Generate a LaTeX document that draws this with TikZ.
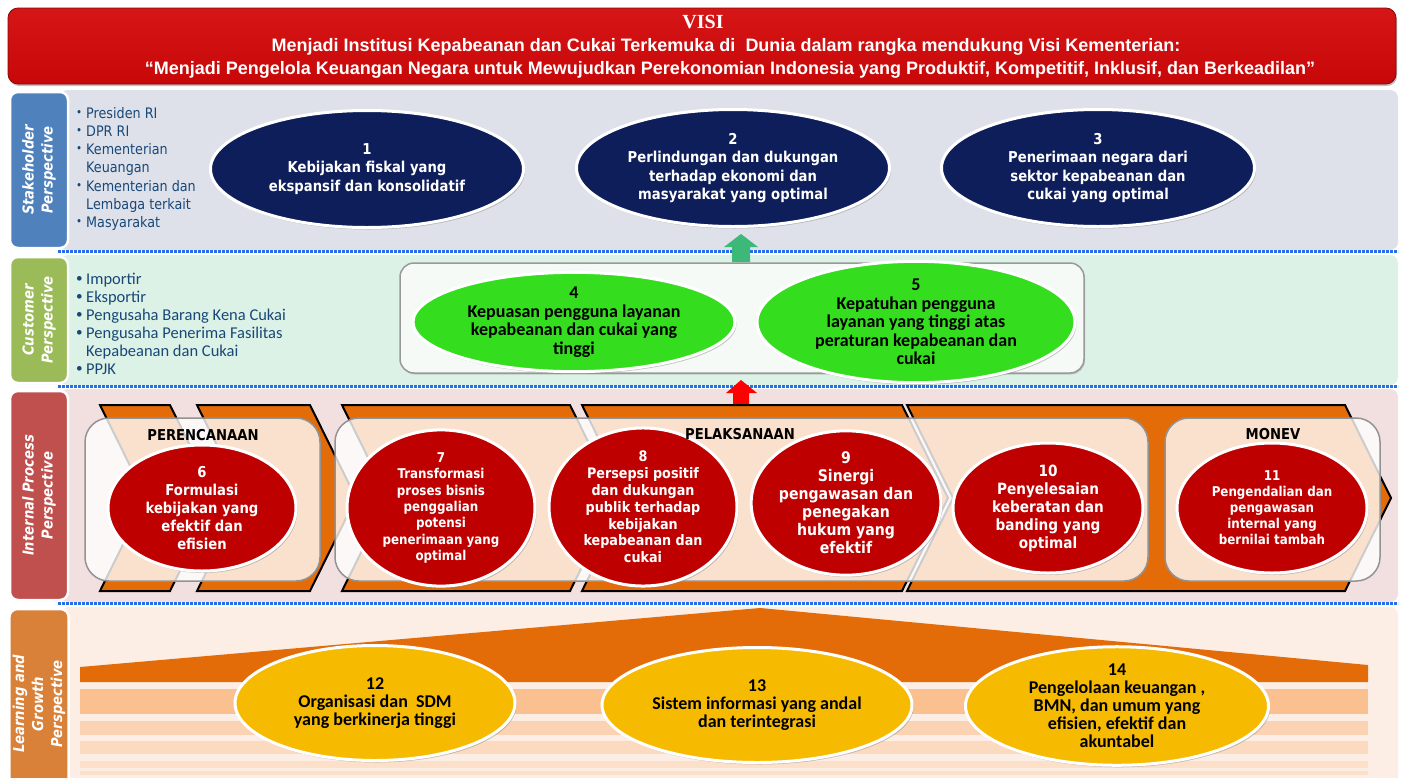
\documentclass[tikz,border=0pt]{standalone}
\usepackage{fontspec}
\setmainfont{DejaVu Sans}[FakeStretch=0.88]
\newfontfamily\headfont{Liberation Sans}
\newfontfamily\visifont{Liberation Serif}
\newfontfamily\califont{Carlito}
\usepackage{tikz}
\usetikzlibrary{shapes.geometric,shadows,positioning}

\definecolor{visired}{RGB}{200,8,8}
\definecolor{visitop}{RGB}{214,22,22}
\definecolor{navy}{RGB}{14,30,90}
\definecolor{brightgreen}{RGB}{52,222,30}
\definecolor{gold}{RGB}{246,187,0}
\definecolor{procred}{RGB}{190,0,0}
\definecolor{chevorange}{RGB}{227,108,9}
\definecolor{listblue}{RGB}{24,72,120}
\definecolor{stakebg}{RGB}{222,225,234}
\definecolor{custbg}{RGB}{221,242,230}
\definecolor{custin}{RGB}{245,250,247}
\definecolor{procbg}{RGB}{242,223,223}
\definecolor{learnbg}{RGB}{252,238,228}
\definecolor{stakelab}{RGB}{79,129,189}
\definecolor{custlab}{RGB}{155,187,89}
\definecolor{proclab}{RGB}{192,80,77}
\definecolor{learnlab}{RGB}{217,128,57}
\definecolor{dotblue}{RGB}{40,110,230}
\definecolor{arrowgreen}{RGB}{60,184,120}
\definecolor{stripeA}{RGB}{250,192,144}
\definecolor{stripeB}{RGB}{251,210,178}
\definecolor{stripeC}{RGB}{252,218,192}
\definecolor{stripeD}{RGB}{252,224,202}

\newcommand{\fsz}[2]{\fontsize{#1}{#2}\selectfont}
\newcommand{\bul}{\makebox[10pt][l]{\raisebox{2pt}{\scalebox{0.8}{\textbullet}}}}
\newcommand{\nobul}{\hspace*{10pt}}

\tikzset{
    goal/.style={
        ellipse,
        draw=white, line width=3pt,
        align=center,
        inner sep=0pt,
        drop shadow={opacity=0.45, shadow xshift=1.5pt, shadow yshift=-2pt}
    },
    stakegoal/.style={
        goal, fill=navy, text=white,
        minimum width=313pt, minimum height=117pt,
        font=\bfseries\fsz{15}{18.5}
    },
    custgoal/.style={
        goal, fill=brightgreen, text=black,
        minimum width=322pt, minimum height=84pt,
        font=\califont\bfseries\fsz{18}{18.5}
    },
    procgoal/.style={
        goal, fill=procred, text=white,
        minimum width=188pt, minimum height=126pt,
        font=\bfseries\fsz{15}{18}
    },
    learngoal/.style={
        goal, fill=gold, text=black,
        minimum height=115pt,
        font=\califont\bfseries\fsz{18}{18}
    },
    perslabel/.style={
        rectangle, rounded corners=8pt,
        draw=white, line width=2.5pt,
        text=white, align=center,
        font=\bfseries\itshape\fsz{15}{19},
        rotate=90, minimum height=58pt,
        drop shadow={opacity=0.3, shadow xshift=1pt, shadow yshift=-1pt}
    },
    band/.style={rounded corners=8pt},
    sepline/.style={draw=dotblue, line width=2.6pt, dash pattern=on 2.6pt off 1.4pt},
    chev/.style={fill=chevorange, draw=black, line width=2pt, line join=miter},
    phasebox/.style={
        rectangle, rounded corners=24pt,
        fill=white, fill opacity=0.8,
        draw=gray!85, draw opacity=1, line width=1.5pt,
        minimum height=163pt
    },
    phasetitle/.style={font=\bfseries\fsz{15}{18}, text=black},
    listtext/.style={align=left, inner sep=0pt, text=listblue, anchor=north west},
    visitext/.style={font=\headfont\bfseries\fsz{18}{20}, text=white}
}

\begin{document}
\begin{tikzpicture}[x=1pt, y=-1pt]
    \useasboundingbox[fill=white] (0,0) rectangle (1402,777);

    % band backgrounds
    \fill[stakebg, band] (60,90) rectangle (1398,250);
    \fill[custbg, band] (60,255) rectangle (1398,385);
    \fill[procbg, band] (60,389) rectangle (1398,602);
    \fill[learnbg, band] (60,607) rectangle (1398,800);
    \draw[sepline] (58,251.5) -- (1398,251.5);
    \draw[sepline] (58,386.5) -- (1398,386.5);
    \draw[sepline] (58,603.5) -- (1398,603.5);

    % header
    \node[rectangle, rounded corners=10pt, top color=visitop, bottom color=visired,
          draw=visired!70!black, line width=0.8pt, minimum width=1388pt, minimum height=76pt,
          drop shadow={opacity=0.5, shadow xshift=1pt, shadow yshift=-2pt}] (visi box) at (702,46) {};
    \node[font=\visifont\bfseries\fsz{20}{20}, text=white] (visi title) at (703,22) {VISI};
    \node[visitext] (visi line one) at (726,47)
        {Menjadi Institusi Kepabeanan dan Cukai Terkemuka di~~Dunia dalam rangka mendukung Visi Kementerian:};
    \node[visitext] (visi line two) at (730,70)
        {“Menjadi Pengelola Keuangan Negara untuk Mewujudkan Perekonomian Indonesia yang Produktif, Kompetitif, Inklusif, dan Berkeadilan”};

    % perspective labels
    \node[perslabel, fill=stakelab, minimum width=156pt] (stake label) at (39,170) {Stakeholder\\Perspective};
    \node[perslabel, fill=custlab, minimum width=126pt] (cust label) at (39,320) {Customer\\Perspective};
    \node[perslabel, fill=proclab, minimum width=209pt] (proc label) at (39,495.5) {Internal Process\\Perspective};
    \node[perslabel, fill=learnlab, minimum width=190pt] (learn label) at (39,704) {Learning and\\Growth\\Perspective};

    % stakeholder perspective
    \node[listtext, font=\fsz{14.5}{18.2}] (stake list) at (76,107)
        {\bul Presiden RI\\ \bul DPR RI\\ \bul Kementerian\\ \nobul Keuangan\\
         \bul Kementerian dan\\ \nobul Lembaga terkait\\ \bul Masyarakat};
    \node[stakegoal] (goal1) at (367,169) {1\\Kebijakan fiskal yang\\ekspansif dan konsolidatif};
    \node[stakegoal] (goal2) at (733,168) {2\\Perlindungan dan dukungan\\terhadap ekonomi dan\\masyarakat yang optimal};
    \node[stakegoal] (goal3) at (1098,168) {3\\Penerimaan negara dari\\sektor kepabeanan dan\\cukai yang optimal};
    \fill[arrowgreen] (724,247) -- (741,234) -- (758,247) -- (750,247) -- (750,262) -- (732,262) -- (732,247) -- cycle;

    % customer perspective
    \node[listtext, font=\califont\fsz{16.5}{18}] (cust list) at (76,273)
        {\bul Importir\\ \bul Eksportir\\ \bul Pengusaha Barang Kena Cukai\\
         \bul Pengusaha Penerima Fasilitas\\ \nobul Kepabeanan dan Cukai\\ \bul PPJK};
    \node[rectangle, rounded corners=14pt, fill=custin, draw=gray!80, line width=1.5pt,
          minimum width=684pt, minimum height=110pt,
          drop shadow={opacity=0.35, shadow xshift=1pt, shadow yshift=-1.5pt}] (cust box) at (742,318) {};
    \node[custgoal] (goal4) at (574,322) {4\\Kepuasan pengguna layanan\\kepabeanan dan cukai yang\\tinggi};
    \node[custgoal, minimum width=318pt] (goal5) at (916,322) {5\\Kepatuhan pengguna\\layanan yang tinggi atas\\peraturan kepabeanan dan\\cukai};
    \fill[red] (726,393) -- (741,380) -- (757,393) -- (749,393) -- (749,405) -- (733,405) -- (733,393) -- cycle;

    % internal process perspective
    \foreach \a/\b in {100/170, 197/310, 342/570, 582/902, 907/1345}
        \filldraw[chev] (\a,405) -- (\b,405) -- (\b+46,498) -- (\b,591) -- (\a,591) -- (\a+46,498) -- cycle;
    \node[phasebox, minimum width=235pt] (plan box) at (202.5,499.5) {};
    \node[phasebox, minimum width=813pt] (exec box) at (741.5,499.5) {};
    \node[phasebox, minimum width=215pt] (monev box) at (1272.5,499.5) {};

    \node[procgoal] (goal6) at (202,508) {6\\Formulasi\\kebijakan yang\\efektif dan\\efisien};
    \node[procgoal, font=\bfseries\fsz{13.5}{16.3}] (goal7) at (441,508)
        {7\\Transformasi\\proses bisnis\\penggalian\\potensi\\penerimaan yang\\optimal};
    \node[procgoal, font=\bfseries\fsz{14.5}{16.8}, minimum height=130pt] (goal8) at (643,507)
        {8\\Persepsi positif\\dan dukungan\\publik terhadap\\kebijakan\\kepabeanan dan\\cukai};
    \node[procgoal, font=\bfseries\fsz{16}{18}, minimum width=186pt] (goal9) at (846,503)
        {9\\Sinergi\\pengawasan dan\\penegakan\\hukum yang\\efektif};
    \node[procgoal, font=\bfseries\fsz{15.5}{18}, minimum width=190pt, minimum height=130pt] (goal10) at (1048,508)
        {10\\Penyelesaian\\keberatan dan\\banding yang\\optimal};
    \node[procgoal, font=\bfseries\fsz{13.5}{16}, minimum width=190pt, minimum height=130pt] (goal11) at (1272,508)
        {11\\Pengendalian dan\\pengawasan\\internal yang\\bernilai tambah};

    \node[phasetitle] (plan title) at (203,435) {PERENCANAAN};
    \node[phasetitle] (exec title) at (740,434) {PELAKSANAAN};
    \node[phasetitle] (monev title) at (1273,434) {MONEV};

    % learning and growth perspective
    \fill[stripeA] (80,689) rectangle (1368,714);
    \fill[stripeB] (80,721) rectangle (1368,735);
    \fill[stripeC] (80,741) rectangle (1368,754);
    \fill[stripeD] (80,761) rectangle (1368,768);
    \fill[stripeD] (80,771) rectangle (1368,775);
    \fill[chevorange] (80,667) -- (760,608) -- (1368,665) -- (1368,682) -- (80,682) -- cycle;

    \node[learngoal, minimum width=280pt] (goal12) at (375,703) {12\\Organisasi dan~~SDM\\yang berkinerja tinggi};
    \node[learngoal, minimum width=310pt] (goal13) at (757,705) {13\\Sistem informasi yang andal\\dan terintegrasi};
    \node[learngoal, minimum width=303pt, minimum height=117pt] (goal14) at (1117,706)
        {14\\Pengelolaan keuangan ,\\BMN, dan umum yang\\efisien, efektif dan\\akuntabel};
\end{tikzpicture}
\end{document}
